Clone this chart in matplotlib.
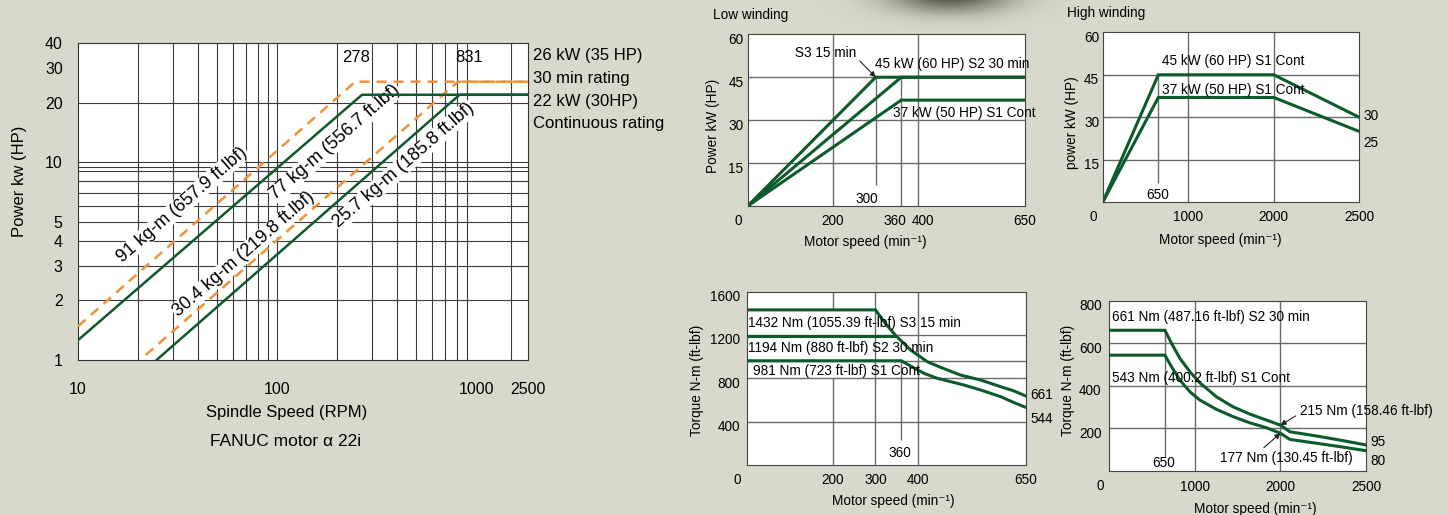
import numpy as np
import matplotlib
matplotlib.use('Agg')
import matplotlib.pyplot as plt
from matplotlib import transforms

plt.rcParams['font.family'] = ['Liberation Sans', 'DejaVu Sans']

BG = '#d8d8cb'
GREEN = '#0d5a2c'
ORANGE = '#f39137'
GRID_L = '#3a3a3a'
GRID_R = '#6a6a6a'

# ---------------- data ----------------
# left: FANUC alpha 22i, power vs spindle speed (log-log)
spd_ticks = [10, 100, 1000, 1820]
spd_tick_labels = ['10', '100', '1000', '2500']
pwr_ticks = [1, 2, 3, 4, 5, 10, 20, 30, 40]
spd_grid = [20, 30, 40, 50, 60, 70, 80, 90, 100, 200, 300, 400, 500,
            600, 700, 800, 900, 1500]
pwr_grid = [2, 3, 4, 5, 6, 7, 8, 9, 9.5, 10, 20]

s30_lo_x = [10, 247, 1820]
s30_lo_y = [1.48, 25.5, 25.5]
cont_lo_x = [10, 267, 1820]
cont_lo_y = [1.26, 21.9, 21.9]
s30_hi_x = [21.9, 810, 1820]
s30_hi_y = [1.06, 25.5, 25.5]
cont_hi_x = [24.8, 825, 1820]
cont_hi_y = [1.0, 21.9, 21.9]

# low winding power (kW vs min-1)
lw_s3_x = [0, 300, 650]
lw_s3_y = [0, 45, 45]
lw_s2_x = [0, 360, 650]
lw_s2_y = [0, 45, 45]
lw_s1_x = [0, 360, 650]
lw_s1_y = [0, 37, 37]

# high winding power
hw_x = [0, 650, 2000, 2500]
hw_s2_y = [0, 45, 45, 30]
hw_s1_y = [0, 37, 37, 25]

# low winding torque (Nm)
tl_s3_x = [0, 300, 323, 346, 382, 421, 452, 498, 545, 592, 623, 650]
tl_s3_y = [1432, 1432, 1307, 1200, 1061, 953, 901, 830, 784, 722, 683, 637]
tl_s2_x = [0, 346]
tl_s2_y = [1194, 1194]
tl_s1_x = [0, 360, 382, 413, 444, 475, 506, 545, 592, 623, 650]
tl_s1_y = [962, 962, 913, 846, 800, 769, 738, 692, 630, 575, 532]

# high winding torque
th_x = [0, 650, 728, 825, 942, 1058, 1253, 1447, 1642, 1836, 2000, 2055,
        2211, 2347, 2500]
th_s2_y = [661, 661, 599, 529, 466, 414, 348, 301, 267, 239, 215, 184,
           164, 145, 122]
th_s1_y = [544, 544, 489, 427, 372, 333, 289, 255, 226, 203, 177, 148,
           130, 114, 95]

# ---------------- figure ----------------
W, H = 1447, 515
fig = plt.figure(figsize=(W / 100, H / 100), dpi=100, facecolor=BG)


def box(x0, x1, y0, y1):
    return [x0 / W, 1 - y1 / H, (x1 - x0) / W, (y1 - y0) / H]


# soft shadow at the top (decoration in the scan)
bg = fig.add_axes([0, 0, 1, 1], zorder=-5)
bg.set_axis_off()
yy, xx = np.mgrid[0:60, 800:1100]
shade = np.zeros(yy.shape + (4,))
shade[..., 0:3] = (0.24, 0.24, 0.18)
shade[..., 3] = 0.85 * np.exp(-((xx - 950) / 60.0) ** 2 - ((yy + 6) / 18.0) ** 2)
bg.imshow(shade, extent=(800, 1100, 60, 0), aspect='auto')
bg.set_xlim(0, W)
bg.set_ylim(H, 0)

# ---------------- left chart ----------------
ax = fig.add_axes(box(78, 528, 43, 360))
ax.set_xscale('log')
ax.set_yscale('log')
ax.set_xlim(10, 1820)
ax.set_ylim(1, 40)
ax.set_xticks(spd_ticks, spd_tick_labels)
ax.set_yticks(pwr_ticks, [str(v) for v in pwr_ticks])
ax.minorticks_off()
ax.tick_params(length=0, labelsize=11.5)
ax.tick_params(axis='x', pad=16)
ax.tick_params(axis='y', pad=11)
for v in spd_grid:
    ax.axvline(v, color=GRID_L, lw=0.8, zorder=1)
for v in pwr_grid:
    ax.axhline(v, color=GRID_L, lw=0.8, zorder=1)
for s in ax.spines.values():
    s.set_color('#333333')

ax.plot(s30_lo_x, s30_lo_y, color=ORANGE, lw=1.8, dashes=(4, 2.8), zorder=3)
ax.plot(s30_hi_x, s30_hi_y, color=ORANGE, lw=1.8, dashes=(4, 2.8), zorder=3)
ax.plot(cont_lo_x, cont_lo_y, color=GREEN, lw=1.8, zorder=3)
ax.plot(cont_hi_x, cont_hi_y, color=GREEN, lw=1.8, zorder=3)

rot = dict(rotation=41, rotation_mode='anchor', ha='center', va='center',
           fontsize=13, zorder=2,
           bbox=dict(facecolor='white', edgecolor='none', pad=0.5))
ax.text(33.4, 6.1, '91 kg-m (657.9 ft.lbf)', **rot)
ax.text(196, 12.6, '77 kg-m (556.7 ft.lbf)', **rot)
ax.text(68, 3.42, '30.4 kg-m (219.8 ft.lbf)', **rot)
ax.text(431, 9.6, '25.7 kg-m (185.8 ft.lbf)', **rot)

ax.text(250, 33.6, '278', ha='center', va='center', fontsize=12)
ax.text(920, 33.6, '831', ha='center', va='center', fontsize=12)

side = transforms.blended_transform_factory(ax.transAxes, ax.transData)
for yv, s in zip([34.4, 26.5, 20.2, 15.6],
                 ['26 kW (35 HP)', '30 min rating', '22 kW (30HP)',
                  'Continuous rating']):
    ax.text(1.011, yv, s, transform=side, ha='left', va='center', fontsize=12)

ax.set_ylabel('Power kw (HP)', fontsize=12)
ax.yaxis.set_label_coords(-0.131, 0.5625)
ax.yaxis.label.set_va('center')
ax.set_xlabel('Spindle Speed (RPM)', fontsize=12)
ax.xaxis.set_label_coords(0.464, -0.167)
ax.xaxis.label.set_va('center')
ax.text(0.462, -0.258, 'FANUC motor \u03b1 22i', transform=ax.transAxes,
        ha='center', va='center', fontsize=12.5)


# ---------------- small charts ----------------
FS = 9.8
drop = transforms.ScaledTranslation(0, -4 / 100, fig.dpi_scale_trans)


def split_fwd(x):
    x = np.asarray(x, dtype=float)
    return np.where(x <= 2000, x, 2000 + 2 * (x - 2000))


def split_inv(u):
    u = np.asarray(u, dtype=float)
    return np.where(u <= 2000, u, 2000 + (u - 2000) / 2)


def small(rect, xlim, ylim, xticks, yticks, xpad, ypad, split=False):
    a = fig.add_axes(rect)
    if split:
        a.set_xscale('function', functions=(split_fwd, split_inv))
    a.set_xlim(xlim)
    a.set_ylim(ylim)
    a.set_xticks(xticks, [str(v) for v in xticks])
    a.set_yticks(yticks, [str(v) for v in yticks])
    a.tick_params(length=0, labelsize=FS)
    a.tick_params(axis='x', pad=xpad)
    a.tick_params(axis='y', pad=ypad)
    for lbl in a.get_yticklabels():
        lbl.set_transform(lbl.get_transform() + drop)
    for s in a.spines.values():
        s.set_color('#444444')
    a.annotate('0', xy=(0, 0), xycoords='axes fraction', xytext=(-9, -15),
               textcoords='offset pixels', ha='center', va='center', fontsize=FS)
    return a


def xlabel_at(a, s, xv, dx):
    # tick label drawn as text where two ticks sit too close together
    a.annotate(s, xy=(xv, 0), xycoords=('data', 'axes fraction'),
               xytext=(dx, -15), textcoords='offset pixels', ha='center',
               va='center', fontsize=FS)


def labels(a, xl, xl_pos, yl, yl_pos):
    a.set_xlabel(xl, fontsize=FS)
    a.xaxis.set_label_coords(*xl_pos)
    a.xaxis.label.set_va('center')
    a.set_ylabel(yl, fontsize=FS)
    a.yaxis.set_label_coords(*yl_pos)
    a.yaxis.label.set_va('center')


line = dict(color=GREEN, lw=2.2, zorder=3, solid_joinstyle='miter')
arrow = dict(arrowstyle='-|>', color='#222222', lw=0.8, mutation_scale=8,
             shrinkA=1, shrinkB=0)
grid = dict(color=GRID_R, lw=1.0, zorder=1)

# low winding power
a1 = small(box(747.7, 1025, 34.3, 206), (0, 650), (0, 60),
           [200, 650], [15, 30, 45, 60], 5.5, 3)
xlabel_at(a1, '360', 360, -6)
xlabel_at(a1, '400', 400, 5)
for v in [15, 30, 45]:
    a1.axhline(v, **grid)
a1.vlines([200, 400], 0, 60, **grid)
a1.vlines([300], 7.5, 45, **grid)
a1.vlines([360], 0, 45, **grid)
a1.plot(lw_s3_x, lw_s3_y, **line)
a1.plot(lw_s2_x, lw_s2_y, **line)
a1.plot(lw_s1_x, lw_s1_y, **line)
a1.annotate('S3 15 min', xy=(300, 45), xytext=(254, 53.5), ha='right',
            va='center', fontsize=FS,
            arrowprops=dict(arrow, relpos=(1, 0.2)))
a1.text(298, 49.6, '45 kW (60 HP) S2 30 min', ha='left', va='center', fontsize=FS)
a1.text(340, 32.5, '37 kW (50 HP) S1 Cont', ha='left', va='center', fontsize=FS)
a1.text(279, 2.4, '300', ha='center', va='center', fontsize=FS)
a1.text(-0.125, 1.112, 'Low winding', transform=a1.transAxes, ha='left',
        va='center', fontsize=FS)
labels(a1, 'Motor speed (min\u207b\u00b9)', (0.423, -0.208),
       'Power kW (HP)', (-0.124, 0.466))

# high winding power
a2 = small(box(1102.7, 1359.3, 32.3, 202.3), (0, 2500), (0, 60),
           [1000, 2000, 2500], [15, 30, 45, 60], 5.5, 2.5, split=True)
for v in [15, 30, 45]:
    a2.axhline(v, **grid)
a2.vlines([1000, 2000], 0, 60, **grid)
a2.vlines([650], 6.7, 45, **grid)
a2.plot(hw_x, hw_s2_y, **line)
a2.plot(hw_x, hw_s1_y, **line)
a2.text(692, 49.9, '45 kW (60 HP) S1 Cont', ha='left', va='center', fontsize=FS)
a2.text(692, 39.6, '37 kW (50 HP) S1 Cont', ha='left', va='center', fontsize=FS)
a2.text(637, 2.6, '650', ha='center', va='center', fontsize=FS)
a2.annotate('30', xy=(2500, hw_s2_y[-1]), xytext=(4, 1),
            textcoords='offset pixels', ha='left', va='center', fontsize=FS)
a2.annotate('25', xy=(2500, hw_s1_y[-1]), xytext=(4, -12),
            textcoords='offset pixels', ha='left', va='center', fontsize=FS)
a2.text(-0.139, 1.115, 'High winding', transform=a2.transAxes, ha='left',
        va='center', fontsize=FS)
labels(a2, 'Motor speed (min\u207b\u00b9)', (0.46, -0.222),
       'power kW (HP)', (-0.121, 0.466))

# low winding torque
a3 = small(box(746.7, 1025.7, 291.7, 464.9), (0, 650), (0, 1600),
           [200, 300, 400, 650], [400, 800, 1200, 1600], 5.5, 5)
for v in [400, 800, 962, 1200]:
    a3.axhline(v, **grid)
a3.vlines([300, 400], 0, 1600, **grid)
a3.vlines([200, 200], [0, 1432], [800, 1600], **grid)
a3.vlines([360], 230, 962, **grid)
a3.plot(tl_s3_x, tl_s3_y, **line)
a3.plot(tl_s2_x, tl_s2_y, **line)
a3.plot(tl_s1_x, tl_s1_y, **line)
a3.text(2.3, 1308, '1432 Nm (1055.39 ft-lbf) S3 15 min', ha='left',
        va='center', fontsize=FS)
a3.text(2.3, 1083, '1194 Nm (880 ft-lbf) S2 30 min', ha='left',
        va='center', fontsize=FS)
a3.text(15, 867, '981 Nm (723 ft-lbf) S1 Cont', ha='left', va='center',
        fontsize=FS)
a3.text(358, 107, '360', ha='center', va='center', fontsize=FS)
a3.annotate('661', xy=(650, tl_s3_y[-1]), xytext=(5, 1),
            textcoords='offset pixels', ha='left', va='center', fontsize=FS)
a3.annotate('544', xy=(650, tl_s1_y[-1]), xytext=(5, -12),
            textcoords='offset pixels', ha='left', va='center', fontsize=FS)
labels(a3, 'Motor speed (min\u207b\u00b9)', (0.525, -0.207),
       'Torque N-m (ft-lbf)', (-0.179, 0.49))

# high winding torque
a4 = small(box(1109.3, 1366, 300.7, 470.9), (0, 2500), (0, 800),
           [1000, 2000, 2500], [200, 400, 600, 800], 6.5, 5.5, split=True)
for v in [200, 400, 600]:
    a4.axhline(v, **grid)
a4.vlines([1000, 2000], 0, 800, **grid)
a4.vlines([650], 67, 661, **grid)
a4.plot(th_x, th_s2_y, **line)
a4.plot(th_x, th_s1_y, **line)
a4.text(28, 724, '661 Nm (487.16 ft-lbf) S2 30 min', ha='left', va='center',
        fontsize=FS)
a4.text(28, 439, '543 Nm (400.2 ft-lbf) S1 Cont', ha='left', va='center',
        fontsize=FS)
a4.annotate('215 Nm (158.46 ft-lbf)', xy=(2000, 215), xytext=(2113, 283),
            ha='left', va='center', fontsize=FS, annotation_clip=False,
            arrowprops=dict(arrow, relpos=(0, 0.3)))
a4.annotate('177 Nm (130.45 ft-lbf)', xy=(2000, 177), xytext=(1292, 59),
            ha='left', va='center', fontsize=FS,
            arrowprops=dict(arrow, relpos=(0.3, 1)))
a4.text(638, 36, '650', ha='center', va='center', fontsize=FS)
a4.annotate('95', xy=(2500, th_s2_y[-1]), xytext=(4, 3),
            textcoords='offset pixels', ha='left', va='center', fontsize=FS)
a4.annotate('80', xy=(2500, th_s1_y[-1]), xytext=(4, -10),
            textcoords='offset pixels', ha='left', va='center', fontsize=FS)
labels(a4, 'Motor speed (min\u207b\u00b9)', (0.568, -0.226),
       'Torque N-m (ft-lbf)', (-0.16, 0.534))

fig.savefig('out.png', dpi=100, facecolor=BG)
